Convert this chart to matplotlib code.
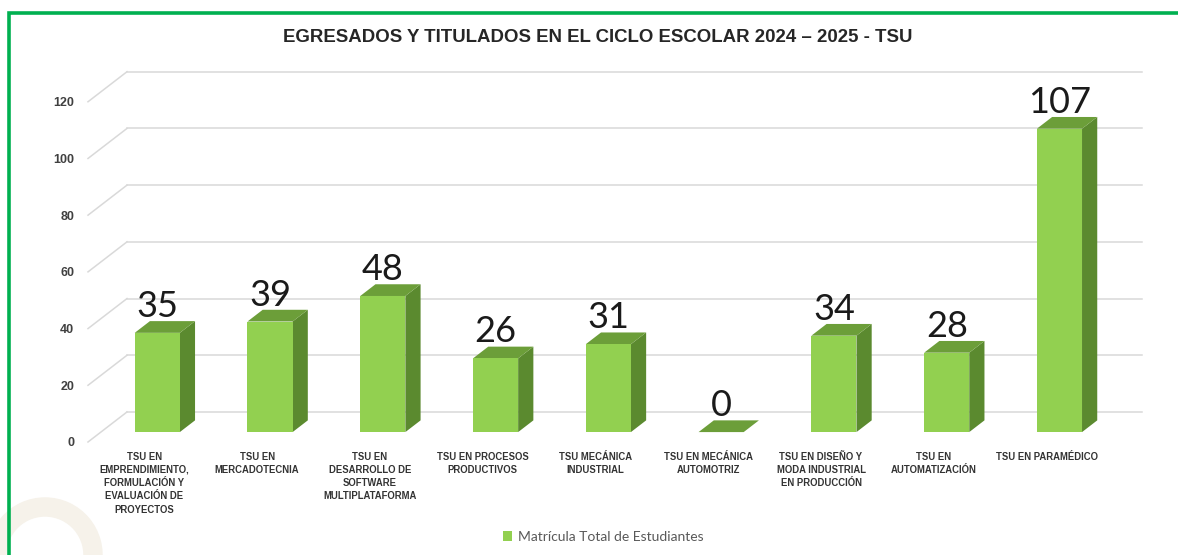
import matplotlib
matplotlib.use("Agg")
import matplotlib.pyplot as plt
from matplotlib import font_manager
from matplotlib.lines import Line2D
from matplotlib.patches import Arc, Patch

# Egresados / titulados por programa TSU, ciclo 2024-2025
categories = [
    "TSU EN\nEMPRENDIMIENTO,\nFORMULACIÓN Y\nEVALUACIÓN DE\nPROYECTOS",
    "TSU EN\nMERCADOTECNIA",
    "TSU EN\nDESARROLLO DE\nSOFTWARE\nMULTIPLATAFORMA",
    "TSU EN PROCESOS\nPRODUCTIVOS",
    "TSU MECÁNICA\nINDUSTRIAL",
    "TSU EN MECÁNICA\nAUTOMOTRIZ",
    "TSU EN DISEÑO Y\nMODA INDUSTRIAL\nEN PRODUCCIÓN",
    "TSU EN\nAUTOMATIZACIÓN",
    "TSU EN PARAMÉDICO",
]
matricula = [35, 39, 48, 26, 31, 0, 34, 28, 107]
y_ticks = [0, 20, 40, 60, 80, 100, 120]
series_name = "Matrícula Total de Estudiantes"
title = "EGRESADOS Y TITULADOS EN EL CICLO ESCOLAR 2024 – 2025 - TSU"

FRONT = "#92D050"
TOP = "#6C9E39"
SIDE = "#5B8A2F"
GRID = "#D9D9D9"

installed = {f.name for f in font_manager.fontManager.ttflist}
NARROW = "Liberation Sans Narrow" if "Liberation Sans Narrow" in installed else "Liberation Sans"
narrow_scale = 1.0 if NARROW == "Liberation Sans Narrow" else 0.84

# oblique projection for the fake 3D look (x in category units, y in value units)
WALL_DX, WALL_DY = 0.346, 10.6
FRONT_DX, FRONT_DY = WALL_DX * 0.33, WALL_DY * 0.33
DEPTH_DX, DEPTH_DY = WALL_DX * 0.39, WALL_DY * 0.39
BAR_W = 0.40

W, H = 1178, 555
fig = plt.figure(figsize=(W / 100, H / 100), dpi=100)
ax = fig.add_axes([88 / W, 1 - 442 / H, (1142 - 88) / W, (442 - 71.7) / H])
ax.patch.set_alpha(0)
x_lo, x_hi = -0.5, len(categories) - 0.5 + WALL_DX
ax.set_xlim(x_lo, x_hi)
ax.set_ylim(0, 120 + WALL_DY)
for s in ax.spines.values():
    s.set_visible(False)

# gridlines: short diagonal on the side wall + horizontal line along the back wall
for t in y_ticks:
    ax.plot([x_lo, x_lo + WALL_DX], [t, t + WALL_DY], color=GRID, lw=1.1, zorder=1,
            clip_on=False)
    ax.plot([x_lo + WALL_DX, x_hi], [t + WALL_DY, t + WALL_DY], color=GRID, lw=1.1,
            zorder=1, clip_on=False)

for i, v in enumerate(matricula):
    x0 = i + FRONT_DX - BAR_W / 2
    x1 = x0 + BAR_W
    y0 = FRONT_DY
    y1 = FRONT_DY + v
    ax.fill([x1, x1 + DEPTH_DX, x1 + DEPTH_DX, x1],
            [y0, y0 + DEPTH_DY, y1 + DEPTH_DY, y1], color=SIDE, lw=0, zorder=3)
    ax.fill([x0, x1, x1 + DEPTH_DX, x0 + DEPTH_DX],
            [y1, y1, y1 + DEPTH_DY, y1 + DEPTH_DY], color=TOP, lw=0, zorder=3)
    if v > 0:
        ax.fill([x0, x1, x1, x0], [y0, y0, y1, y1], color=FRONT, lw=0, zorder=4)
    ax.text(i + FRONT_DX, y1 + DEPTH_DY + 1.5, f"{v}", ha="center", va="baseline",
            fontsize=26, family="Lato", color="#1a1a1a", zorder=5)

ax.set_yticks(y_ticks)
ax.set_yticklabels([str(t) for t in y_ticks], fontsize=9, fontweight="bold",
                   family="Liberation Sans", color="#404040")
ax.set_xticks(range(len(categories)))
ax.set_xticklabels(categories, fontsize=8.2 * narrow_scale, fontweight="bold",
                   family=NARROW, color="#333333", linespacing=1.4)
ax.tick_params(axis="y", length=0, pad=10)
ax.tick_params(axis="x", length=0, pad=7)

fig.text(598 / W, 1 - 37.5 / H, title, ha="center", va="center", fontsize=16 * narrow_scale,
         fontweight="bold", family=NARROW, color="#262626")

fig.legend(handles=[Patch(facecolor=FRONT, edgecolor="none")], labels=[series_name],
           loc="center", bbox_to_anchor=(603 / W, 1 - 537 / H), frameon=False,
           prop={"family": "Lato", "size": 10}, labelcolor="#595959",
           handlelength=0.7, handleheight=0.7, handletextpad=0.4)

# decorative watermark and green frame
fig.add_artist(Arc((0.45, 0.0), 0.96, 0.96, theta1=-10, theta2=190,
                   transform=fig.dpi_scale_trans, color="#F6F2EA", lw=14, zorder=0))
fig.add_artist(Line2D([8.5 / W, 8.5 / W, 1.0], [0, 1 - 13 / H, 1 - 13 / H],
                      transform=fig.transFigure, color="#00B050", lw=2.6,
                      solid_joinstyle="miter"))

fig.savefig("out.png", dpi=100)
